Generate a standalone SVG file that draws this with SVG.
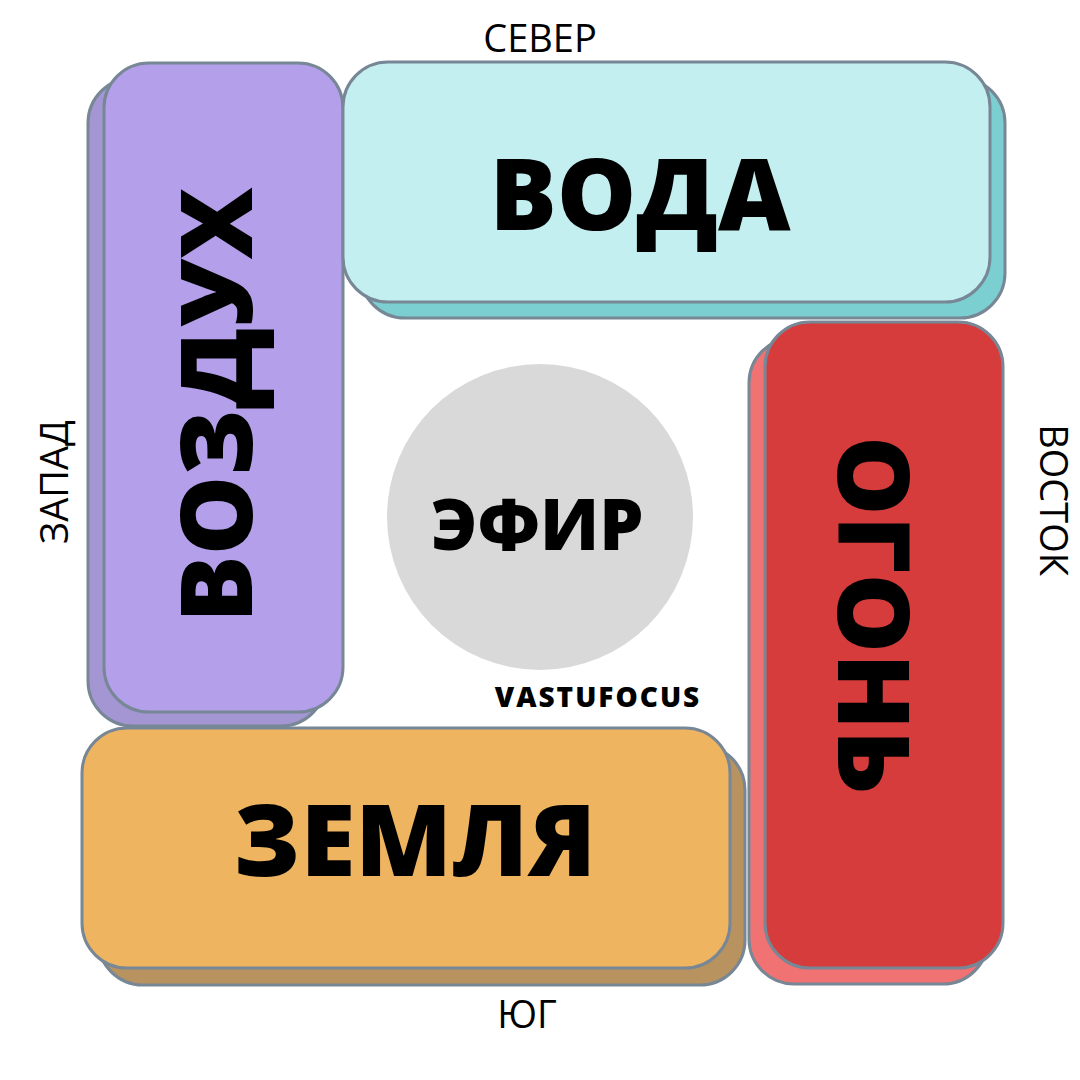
<svg xmlns="http://www.w3.org/2000/svg" width="1080" height="1080" viewBox="0 0 1080 1080">
<style>
.b{stroke:#778796;stroke-width:3}
.big{font-family:"Open Sans","DejaVu Sans",sans-serif;font-weight:800;fill:#000;text-anchor:middle}
.dir{font-family:"Open Sans","Liberation Sans",sans-serif;font-size:38px;fill:#000;text-anchor:middle}
</style>
<rect width="1080" height="1080" fill="#fff"/>
<g id="air">
<rect class="b" x="88" y="78" width="238" height="648" rx="45" fill="#a396d2"/>
<rect class="b" x="104" y="63" width="239" height="649" rx="45" fill="#b39fea"/>
<text class="big" font-size="100" transform="translate(252,405) rotate(-90)">ВОЗДУХ</text>
</g>
<g id="water">
<rect class="b" x="360" y="78" width="645" height="240" rx="45" fill="#7ccfd0"/>
<rect class="b" x="343" y="62" width="647" height="240" rx="45" fill="#c4eff0"/>
<text class="big" font-size="100" x="640" y="230">ВОДА</text>
</g>
<g id="fire">
<rect class="b" x="749" y="338" width="239" height="646" rx="45" fill="#f07272"/>
<rect class="b" x="765" y="322" width="238" height="646" rx="45" fill="#d63c3c"/>
<text class="big" font-size="100" transform="translate(838,615) rotate(90)">ОГОНЬ</text>
</g>
<g id="earth">
<rect class="b" x="98" y="745" width="647" height="240" rx="45" fill="#b8925f"/>
<rect class="b" x="82" y="728" width="648" height="240" rx="45" fill="#eeb460"/>
<text class="big" font-size="100" x="415" y="876">ЗЕМЛЯ</text>
</g>
<g id="ether">
<circle cx="540" cy="517" r="153" fill="#d9d9d9"/>
<text class="big" font-size="70" x="537" y="550">ЭФИР</text>
</g>
<text class="big" font-size="28" x="598" y="707" letter-spacing="2">VASTUFOCUS</text>
<text class="dir" x="540" y="52">СЕВЕР</text>
<text class="dir" x="527" y="1028">ЮГ</text>
<text class="dir" transform="translate(68,482) rotate(-90)">ЗАПАД</text>
<text class="dir" transform="translate(1040,500) rotate(90)">ВОСТОК</text>
</svg>
